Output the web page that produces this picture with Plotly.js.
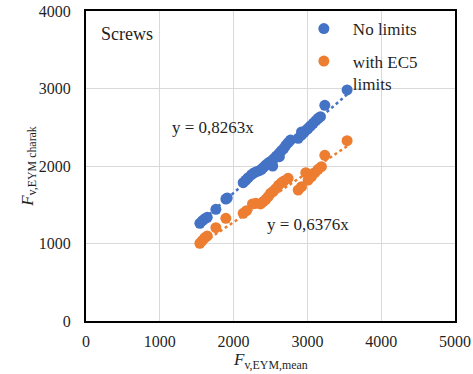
<!DOCTYPE html>
<html>
<head>
<meta charset="utf-8">
<script src="https://cdn.plot.ly/plotly-3.0.1.min.js"></script>
<style>html,body{margin:0;padding:0;background:#fff;}#chart{width:473px;height:374px;}</style>
</head>
<body>
<div id="chart"></div>
<script>
// Data
const noLimitsX = [1543,1579,1611,1643,1760,1895,1913,2130,2166,2198,2243,2274,2310,2347,2378,2401,2428,2455,2482,2514,2530,2545,2581,2617,2620,2649,2681,2708,2739,2771,2875,2920,2920,2951,2987,3010,3042,3078,3114,3145,3177,3236,3538];
const noLimitsY = [1260,1295,1320,1338,1441,1574,1587,1785,1819,1849,1888,1910,1927,1940,1957,1978,2004,2026,2047,2065,2000,2095,2129,2163,2120,2198,2228,2267,2301,2335,2357,2400,2440,2430,2465,2486,2516,2551,2585,2615,2637,2783,2981];
const ec5X = [1543,1575,1611,1643,1760,1895,2130,2175,2256,2301,2365,2401,2437,2468,2500,2536,2572,2608,2649,2681,2739,2875,2920,2978,3010,3055,3100,3145,3190,3236,3538];
const ec5Y = [1002,1037,1075,1097,1204,1325,1389,1424,1510,1518,1510,1540,1570,1604,1647,1673,1708,1751,1785,1806,1841,1690,1733,1914,1819,1862,1914,1957,1991,2138,2327];
const slopeNoLimits = 0.8263;
const slopeEC5 = 0.6376;
const seriesNames = ["No limits", "with EC5<br>limits"];
const xTicks = [0,1000,2000,3000,4000,5000];
const yTicks = [0,1000,2000,3000,4000];

const blue = "#4472C4", orange = "#ED7D31";
const serif = "Liberation Serif, Times New Roman, serif";
const ink = "#1f1f1f";

function trend(xs, k){
  const lo = Math.min(...xs), hi = Math.max(...xs);
  return {x:[lo,hi], y:[lo*k, hi*k]};
}
const t1 = trend(noLimitsX, slopeNoLimits);
const t2 = trend(ec5X, slopeEC5);

const data = [
  {x:t1.x, y:t1.y, mode:"lines", line:{color:blue, width:2.5, dash:"dot"}, showlegend:false, hoverinfo:"skip"},
  {x:t2.x, y:t2.y, mode:"lines", line:{color:orange, width:2.5, dash:"dot"}, showlegend:false, hoverinfo:"skip"},
  {x:noLimitsX, y:noLimitsY, mode:"markers", name:seriesNames[0], marker:{color:blue, size:11}, legend:"legend"},
  {x:ec5X, y:ec5Y, mode:"markers", name:seriesNames[1], marker:{color:orange, size:11}, legend:"legend2"}
];

const axisCommon = {
  showgrid:true, gridcolor:"#d9d9d9", gridwidth:1,
  zeroline:false, showline:true, linecolor:"#000", linewidth:2, mirror:true,
  ticks:"outside", tickcolor:"rgba(0,0,0,0)", tickfont:{family:serif, size:16, color:ink}
};

const legendFont = {family:serif, size:17, color:ink};

const layout = {
  width:473, height:374,
  margin:{l:86, r:18, t:11, b:53},
  paper_bgcolor:"#fff", plot_bgcolor:"#fff",
  font:{family:serif, color:ink},
  xaxis:Object.assign({}, axisCommon, {range:[0,5000], tickvals:xTicks, ticktext:xTicks.map(String), ticklen:5}),
  yaxis:Object.assign({}, axisCommon, {range:[0,4000], tickvals:yTicks, ticktext:yTicks.map(String), ticklen:10}),
  legend:{x:0.566, y:1.0, xanchor:"left", yanchor:"top", bgcolor:"rgba(0,0,0,0)", font:legendFont, itemwidth:48},
  legend2:{x:0.566, y:0.895, xanchor:"left", yanchor:"top", bgcolor:"rgba(0,0,0,0)", font:legendFont, valign:"top", itemwidth:48},
  annotations:[
    {xref:"paper", yref:"paper", x:0.035, y:0.925, xanchor:"left", yanchor:"middle", text:"Screws", showarrow:false, font:{family:serif, size:18, color:ink}},
    {xref:"x", yref:"y", x:1140, y:2500, xanchor:"left", yanchor:"middle", text:"y = 0,8263x", showarrow:false, font:{family:serif, size:17, color:ink}},
    {xref:"x", yref:"y", x:2420, y:1240, xanchor:"left", yanchor:"middle", text:"y = 0,6376x", showarrow:false, font:{family:serif, size:17, color:ink}},
    {xref:"paper", yref:"paper", x:0.5, y:-0.13, xanchor:"center", yanchor:"middle", text:"<i>F</i><sub>v,EYM,mean</sub>", showarrow:false, font:{family:serif, size:17, color:ink}},
    {xref:"paper", yref:"paper", x:-0.155, y:0.5, xanchor:"center", yanchor:"middle", textangle:-90, text:"<i>F</i><sub>v,EYM charak</sub>", showarrow:false, font:{family:serif, size:17, color:ink}}
  ]
};

Plotly.newPlot("chart", data, layout, {displayModeBar:false, staticPlot:true});
</script>
</body>
</html>
